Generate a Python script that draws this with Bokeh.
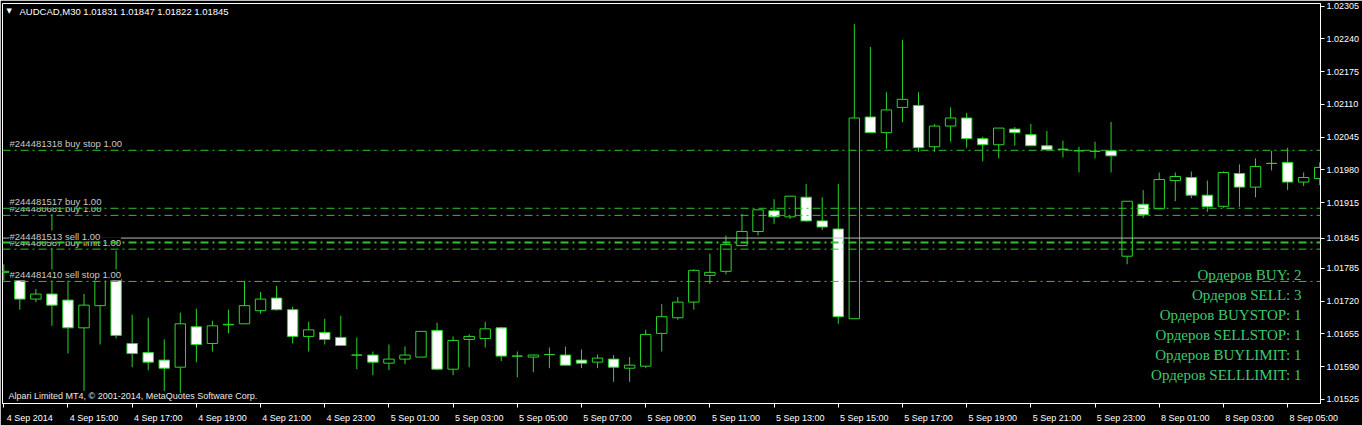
from bokeh.plotting import figure
from bokeh.models import Range1d, FixedTicker, PrintfTickFormatter, Span, Label, ColumnDataSource
from bokeh.embed import file_html
from bokeh.resources import INLINE

# ---------------- data ----------------
bar_open = [1.01777, 1.01773, 1.01724, 1.01734, 1.01722, 1.01667, 1.01711, 1.01763, 1.01636, 1.01618,
            1.01603, 1.01589, 1.01669, 1.01636, 1.01673, 1.01675, 1.01701, 1.01726, 1.01703, 1.01650,
            1.01658, 1.01648, 1.01613, 1.01613, 1.01597, 1.01605, 1.01609, 1.01662, 1.01585, 1.01644,
            1.01646, 1.01667, 1.01611, 1.01609, 1.01614, 1.01613, 1.01603, 1.01599, 1.01605, 1.01587,
            1.01591, 1.01656, 1.01687, 1.01718, 1.01771, 1.01779, 1.01830, 1.01858, 1.01899, 1.01887,
            1.01926, 1.01879, 1.01863, 1.01685, 1.02085, 1.02054, 1.02104, 1.02108, 1.02026, 1.02067,
            1.02083, 1.02042, 1.02030, 1.02061, 1.02050, 1.02028, 1.02021, 1.02018, 1.02017, 1.02018,
            1.01809, 1.01912, 1.01903, 1.01959, 1.01965, 1.01930, 1.01908, 1.01973, 1.01946, 1.01993,
            1.01995, 1.01956, 1.01963]
bar_high = [1.01793, 1.01781, 1.01744, 1.01899, 1.01763, 1.01734, 1.01769, 1.01820, 1.01693, 1.01687,
            1.01644, 1.01697, 1.01705, 1.01681, 1.01703, 1.01760, 1.01738, 1.01750, 1.01709, 1.01679,
            1.01685, 1.01691, 1.01648, 1.01620, 1.01634, 1.01630, 1.01660, 1.01677, 1.01650, 1.01654,
            1.01679, 1.01669, 1.01620, 1.01614, 1.01628, 1.01630, 1.01624, 1.01614, 1.01613, 1.01609,
            1.01663, 1.01714, 1.01728, 1.01783, 1.01814, 1.01850, 1.01893, 1.01901, 1.01922, 1.01928,
            1.01952, 1.01926, 1.01952, 1.02269, 1.02224, 1.02134, 1.02238, 1.02134, 1.02071, 1.02104,
            1.02093, 1.02046, 1.02063, 1.02065, 1.02071, 1.02057, 1.02038, 1.02026, 1.02036, 1.02075,
            1.01918, 1.01940, 1.01975, 1.01975, 1.01977, 1.01959, 1.01977, 1.01991, 1.02003, 1.02018,
            1.02024, 1.01975, 1.01995]
bar_low = [1.01761, 1.01703, 1.01718, 1.01671, 1.01616, 1.01542, 1.01634, 1.01646, 1.01589, 1.01583,
           1.01542, 1.01538, 1.01599, 1.01620, 1.01656, 1.01675, 1.01695, 1.01701, 1.01636, 1.01620,
           1.01634, 1.01632, 1.01585, 1.01573, 1.01583, 1.01595, 1.01609, 1.01583, 1.01573, 1.01589,
           1.01628, 1.01601, 1.01569, 1.01579, 1.01587, 1.01593, 1.01587, 1.01587, 1.01560, 1.01560,
           1.01587, 1.01620, 1.01683, 1.01703, 1.01754, 1.01773, 1.01830, 1.01850, 1.01873, 1.01883,
           1.01877, 1.01861, 1.01675, 1.01685, 1.02054, 1.02022, 1.02075, 1.02016, 1.02016, 1.02036,
           1.02024, 1.01997, 1.02003, 1.02028, 1.02028, 1.02020, 1.02005, 1.01975, 1.02003, 1.01975,
           1.01793, 1.01885, 1.01903, 1.01918, 1.01924, 1.01897, 1.01905, 1.01907, 1.01926, 1.01979,
           1.01940, 1.01948, 1.01950]
bar_close = [1.01779, 1.01724, 1.01734, 1.01712, 1.01667, 1.01712, 1.01763, 1.01652, 1.01616, 1.01599,
             1.01587, 1.01675, 1.01634, 1.01671, 1.01674, 1.01711, 1.01724, 1.01703, 1.01650, 1.01663,
             1.01644, 1.01632, 1.01613, 1.01599, 1.01605, 1.01613, 1.01660, 1.01585, 1.01642, 1.01650,
             1.01665, 1.01611, 1.01611, 1.01613, 1.01614, 1.01593, 1.01597, 1.01607, 1.01589, 1.01593,
             1.01654, 1.01689, 1.01718, 1.01781, 1.01777, 1.01832, 1.01858, 1.01901, 1.01887, 1.01928,
             1.01879, 1.01867, 1.01689, 1.02083, 1.02054, 1.02099, 1.02120, 1.02024, 1.02067, 1.02083,
             1.02042, 1.02030, 1.02063, 1.02054, 1.02028, 1.02020, 1.02021, 1.02018, 1.02017, 1.02008,
             1.01918, 1.01891, 1.01961, 1.01967, 1.01930, 1.01907, 1.01975, 1.01946, 1.01987, 1.01993,
             1.01956, 1.01965, 1.01985]

time_labels = ["4 Sep 2014", "4 Sep 15:00", "4 Sep 17:00", "4 Sep 19:00", "4 Sep 21:00", "4 Sep 23:00",
               "5 Sep 01:00", "5 Sep 03:00", "5 Sep 05:00", "5 Sep 07:00", "5 Sep 09:00", "5 Sep 11:00",
               "5 Sep 13:00", "5 Sep 15:00", "5 Sep 17:00", "5 Sep 19:00", "5 Sep 21:00", "5 Sep 23:00",
               "8 Sep 01:00", "8 Sep 03:00", "8 Sep 05:00"]
time_label_bars = [0, 4, 8, 12, 16, 20, 24, 28, 32, 36, 40, 44, 48, 52, 56, 60, 64, 68, 72, 76, 80]

price_ticks = [1.02305, 1.02240, 1.02175, 1.02110, 1.02045, 1.01980, 1.01915,
               1.01785, 1.01720, 1.01655, 1.01590, 1.01525]

order_labels = ["#244481410 sell stop 1.00", "#244480587 buy limit 1.00", "#244481513 sell 1.00",
                "#244480681 buy 1.00", "#244481517 buy 1.00", "#244481318 buy stop 1.00"]
order_prices = [1.01759, 1.01823, 1.01836, 1.01890, 1.01904, 1.02019]
order_widths = [1, 1, 2, 1, 1, 1]

bid_price = 1.01845
header_text = "AUDCAD,M30  1.01831 1.01847 1.01822 1.01845"
copyright_text = "Alpari Limited MT4, \u00a9 2001-2014, MetaQuotes Software Corp."
summary_lines = ["Ордеров BUY: 2", "Ордеров SELL: 3", "Ордеров BUYSTOP: 1",
                 "Ордеров SELLSTOP: 1", "Ордеров BUYLIMIT: 1", "Ордеров SELLLIMIT: 1"]

# ---------------- layout / style ----------------
GREEN = "#2AD62A"
ORDER_GREEN = "#2EC42E"
TEXT_GREEN = "#3CCB6E"
X_START, X_END = -0.08, 82.05
Y_BOT, Y_TOP = 1.01517, 1.02310
LABEL_SHIFT = 1.625  # MT4 draws date labels to the right of the tick mark
FONT = "Liberation Sans"

n = len(bar_open)
xs = list(range(n))
tops = [max(o, c) for o, c in zip(bar_open, bar_close)]
bots = [min(o, c) for o, c in zip(bar_open, bar_close)]
fills = ["black" if c >= o else "white" for o, c in zip(bar_open, bar_close)]
src = ColumnDataSource(dict(x=xs, high=bar_high, low=bar_low, top=tops, bottom=bots, fill=fills))

p = figure(width=1362, height=425, output_backend="svg", toolbar_location=None,
           x_range=Range1d(X_START, X_END), y_range=Range1d(Y_BOT, Y_TOP),
           y_axis_location="right", background_fill_color="black", border_fill_color="black",
           min_border_left=2, min_border_right=0, min_border_top=3, min_border_bottom=0)
p.outline_line_color = "white"
p.outline_line_width = 1
p.grid.visible = False

# bid line (under labels)
p.add_layout(Span(location=bid_price, dimension="width", line_color="#B8B8B8", line_width=1))

# order line labels (black background hides what lies under them)
for txt, pr in zip(order_labels, order_prices):
    p.add_layout(Label(x=X_START, y=pr, x_offset=7, y_offset=1, text=txt,
                       text_baseline="bottom", text_align="left",
                       text_font=FONT, text_font_size="9.5px", text_color="#C8C8C8",
                       background_fill_color="black"))

# order lines
for pr, w in zip(order_prices, order_widths):
    p.add_layout(Span(location=pr, dimension="width", line_color=ORDER_GREEN,
                      line_width=w, line_dash="8 4 2 4"))

# candles
p.segment(x0="x", y0="low", x1="x", y1="high", source=src, line_color=GREEN, line_width=1)
p.vbar(x="x", width=0.65, top="top", bottom="bottom", fill_color="fill",
       line_color=GREEN, line_width=1, source=src)

# axes
xa = p.xaxis[0]
label_pos = [b + LABEL_SHIFT for b in time_label_bars]
xa.ticker = FixedTicker(ticks=label_pos, minor_ticks=time_label_bars)
xa.major_label_overrides = {pos: lbl for pos, lbl in zip(label_pos, time_labels)}
xa.axis_line_color = "white"
xa.major_tick_out = 0
xa.major_tick_in = 0
xa.minor_tick_out = 4
xa.minor_tick_in = 0
xa.minor_tick_line_color = "white"
xa.major_label_standoff = 5
xa.major_label_text_font = FONT
xa.major_label_text_font_size = "9px"
xa.major_label_text_color = "white"

ya = p.yaxis[0]
ya.ticker = FixedTicker(ticks=sorted(price_ticks + [bid_price]), minor_ticks=[])
ya.formatter = PrintfTickFormatter(format="%.5f")
ya.axis_line_color = "white"
ya.major_tick_out = 4
ya.major_tick_in = 0
ya.minor_tick_out = 0
ya.minor_tick_in = 0
ya.major_tick_line_color = "white"
ya.major_label_standoff = 2
ya.major_label_text_font = FONT
ya.major_label_text_font_size = "9px"
ya.major_label_text_color = "white"

# header
p.add_layout(Label(x=X_START, y=Y_TOP, x_offset=4, y_offset=-3, text="\u25bc",
                   text_baseline="top", text_font="DejaVu Sans", text_font_size="7px",
                   text_color="white"))
p.add_layout(Label(x=X_START, y=Y_TOP, x_offset=17, y_offset=-2, text=header_text,
                   text_baseline="top", text_font=FONT, text_font_size="9.5px",
                   text_color="white"))

# copyright
p.add_layout(Label(x=X_START, y=Y_BOT, x_offset=6, y_offset=3, text=copyright_text,
                   text_baseline="bottom", text_font=FONT, text_font_size="9px",
                   text_color="#E8E8E8"))

# order summary
for k, line in enumerate(summary_lines):
    p.add_layout(Label(x=X_END, y=1.01771, x_offset=-19, y_offset=-20 * k, text=line,
                       text_baseline="middle", text_align="right", text_font="Liberation Serif",
                       text_font_size="15px", text_color=TEXT_GREEN))

open("out.html", "w").write(file_html(p, INLINE))
